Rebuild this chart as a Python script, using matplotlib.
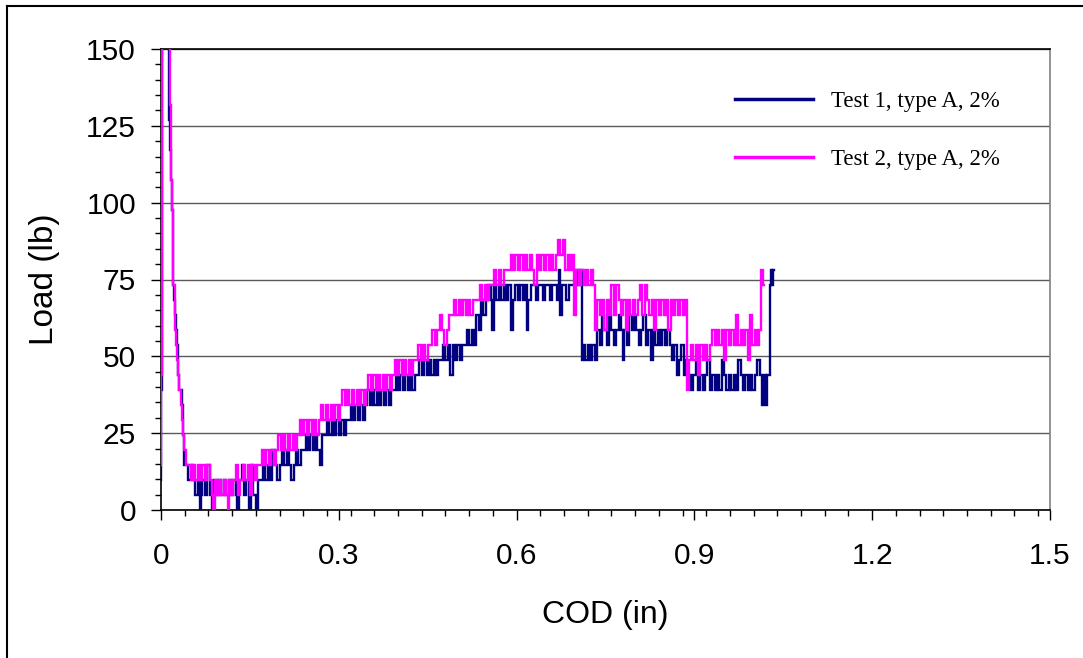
import numpy as np
import matplotlib
matplotlib.use("Agg")
import matplotlib.pyplot as plt
from matplotlib.ticker import MultipleLocator, FixedLocator, FixedFormatter
from matplotlib.lines import Line2D

# ---------------- data ----------------
# Load cell resolution: loads are recorded in steps of this many lb
LOAD_STEP = 4.88

SERIES_LABELS = ["Test 1, type A, 2%", "Test 2, type A, 2%"]
SERIES_COLORS = ["#000080", "#FF00FF"]

# COD in thousandths of an inch, load in load-cell steps
TEST1_COD_MILS = [
    0, 1, 2, 3, 8, 13, 15, 17, 18, 19, 20, 21, 22, 24, 26, 28, 30, 32, 34, 36, 38, 40, 42,
    44, 48, 52, 56, 60,
    64, 66, 68, 72, 76, 80, 84, 88, 92, 96, 100, 104, 108, 112, 116, 120, 124, 128, 130, 134,
    138, 142, 146, 150, 154, 158, 162, 166,
    170, 174, 178, 182, 186, 190, 194, 198,
    202, 206, 210, 214, 218, 222, 226, 230, 234, 238,
    242, 246, 250, 254, 258, 262, 266, 270, 274,
    278, 282, 286, 290, 294, 298, 302, 306, 310, 314,
    318, 322, 326, 330, 334, 338, 342,
    346, 350, 354, 358, 362, 366, 370, 374, 378, 382, 386, 390,
    394, 398, 402, 406, 410, 414, 418, 422, 426, 430,
    434, 438, 442, 446, 450, 454, 458, 462, 466, 470,
    474, 478, 482, 486, 490, 494, 498, 502, 506, 510,
    514, 518, 522, 526, 530,
    534, 538, 542, 546, 550,
    554, 558, 560, 564, 568, 572, 576, 580, 584, 588, 592, 596, 600, 604, 608, 612, 616, 618,
    622, 626, 630, 634, 638, 642, 646, 650, 654, 658, 662, 666, 670, 672, 675, 678, 682, 686,
    690, 694, 698,
    702, 706, 709, 711, 714, 718, 722, 726, 730, 734,
    738, 742, 746, 750, 754, 758, 762, 766, 770, 774, 778, 780, 784, 788, 792, 796, 800, 804,
    808, 812, 816, 820, 824, 828, 832, 836, 840, 844, 848, 852, 856, 860,
    864, 868, 872, 876, 880, 884, 888,
    892, 896, 900, 904, 908, 912, 916, 920, 924, 928, 932, 936, 940, 944, 948, 952, 956, 960,
    964, 968, 972, 976, 980, 984, 988, 992, 996, 1000, 1004, 1008, 1012,
    1016, 1019, 1021, 1024, 1026, 1028, 1030, 1032, 1034,
]
TEST1_LOAD_STEPS = [
    2, 8, 20, 31, 31, 31, 26, 24, 22, 20, 17, 15, 14, 13, 12, 11, 9, 8, 8, 7, 5, 3, 3,
    3, 2, 3, 2, 1,
    2, 0, 1, 2, 1, 3, 1, 0, 2, 1, 2, 1, 2, 1, 2, 1, 2, 1, 0, 2,
    3, 1, 2, 0, 3, 1, 0, 2,
    2, 3, 2, 3, 2, 4, 3, 2,
    3, 4, 3, 4, 3, 2, 3, 4, 3, 4,
    4, 5, 4, 5, 4, 5, 4, 3, 5,
    5, 6, 5, 6, 5, 6, 5, 6, 5, 6,
    6, 7, 6, 7, 6, 7, 6,
    7, 8, 7, 8, 7, 8, 7, 8, 7, 8, 7, 8,
    8, 9, 8, 9, 8, 9, 8, 9, 8, 9,
    9, 10, 9, 10, 9, 10, 9, 10, 9, 10,
    10, 11, 10, 11, 9, 11, 10, 11, 10, 11,
    11, 12, 11, 12, 11,
    13, 12, 14, 13, 14,
    15, 14, 12, 15, 14, 15, 14, 15, 14, 15, 12, 14, 15, 14, 15, 14, 15, 12,
    14, 15, 15, 14, 15, 15, 14, 15, 15, 14, 15, 15, 14, 16, 13, 15, 15, 14,
    15, 15, 15,
    16, 15, 16, 10, 11, 10, 11, 10, 11, 10,
    12, 11, 13, 12, 11, 13, 12, 11, 12, 13, 12, 10, 12, 11, 13, 12, 13, 12,
    11, 12, 13, 11, 12, 10, 12, 11, 12, 11, 12, 11, 12, 11,
    10, 11, 9, 10, 11, 9, 10,
    9, 8, 9, 10, 8, 9, 8, 9, 10, 8, 9, 8, 9, 8, 10, 9, 8, 9,
    8, 9, 8, 10, 9, 8, 9, 8, 9, 8, 9, 10, 9,
    7, 9, 7, 9, 9, 15, 16, 15, 16,
]

TEST2_COD_MILS = [
    0, 1, 2, 3, 8, 13, 15, 16, 17, 18, 19, 20, 22, 24, 26, 28, 30, 32, 34, 36, 38, 40, 42, 44,
    48, 52, 56, 60, 64, 68, 72, 76, 80, 84,
    87, 89, 92, 96, 100, 104, 108, 111, 114, 117,
    120, 124, 128, 132, 136, 140, 144, 148, 152, 156, 160, 164,
    168, 172, 176, 180, 184, 188, 192,
    196, 200, 204, 208, 212, 216, 220, 224, 228,
    232, 236, 240, 244, 248, 252, 256, 260, 264,
    268, 272, 276, 280, 284, 288, 292, 296, 300,
    304, 308, 312, 316, 320, 324, 328, 332, 336, 340, 344,
    348, 352, 356, 360, 364, 368, 372, 376, 380, 384, 388,
    392, 396, 400, 404, 408, 412, 416, 420, 424, 428,
    432, 436, 440, 444, 448, 452,
    456, 460, 464, 468, 472, 476, 480, 484, 488,
    492, 496, 500, 504, 508, 512, 516, 520, 524, 528, 532,
    536, 540, 544, 548, 552, 556,
    560, 564, 568, 572, 576, 580, 584,
    588, 592, 596, 600, 604, 608, 612, 616, 620, 624, 628, 632, 636, 640, 644, 648, 652, 656,
    660, 664, 668, 672, 676, 680, 684, 688, 692, 696, 699,
    703, 707, 711, 715, 719, 723, 727, 731,
    734, 738, 742, 746, 750, 754, 758, 762, 766, 770, 774, 778, 782, 786, 790, 794, 798, 802,
    806, 810, 814, 818, 822, 826, 830, 834, 838, 842, 846, 850, 854, 858, 862, 866, 870, 874,
    878, 882, 886,
    890, 893,
    896, 900, 904, 908, 912, 916, 920, 924, 928,
    932, 936, 940, 944, 948, 952, 956, 960, 964, 968, 972, 976, 980, 984, 988, 992, 996, 1000,
    1004, 1008, 1011,
    1013, 1015, 1017,
]
TEST2_LOAD_STEPS = [
    3, 9, 20, 31, 31, 31, 31, 27, 25, 22, 20, 18, 15, 12, 11, 10, 9, 8, 7, 6, 5, 4, 4, 3,
    3, 2, 3, 2, 3, 2, 3, 2, 3, 2,
    1, 0, 2, 1, 2, 1, 2, 1, 0, 2,
    1, 2, 3, 1, 2, 3, 2, 3, 1, 3, 2, 3,
    3, 4, 3, 4, 3, 4, 3,
    4, 5, 4, 5, 4, 5, 4, 5, 4,
    5, 6, 5, 6, 5, 6, 5, 6, 5,
    6, 7, 6, 7, 6, 7, 6, 7, 6,
    7, 8, 7, 8, 7, 8, 7, 8, 7, 8, 7,
    8, 9, 8, 9, 8, 9, 8, 9, 8, 9, 8,
    9, 10, 9, 10, 9, 10, 9, 10, 9, 10,
    10, 11, 10, 11, 10, 11,
    11, 12, 11, 12, 13, 12, 11, 12, 13,
    13, 14, 13, 14, 13, 14, 13, 14, 13, 14, 14,
    14, 15, 14, 15, 14, 15,
    15, 16, 15, 16, 15, 16, 16,
    16, 17, 16, 17, 16, 17, 16, 17, 16, 17, 16, 15, 17, 16, 17, 16, 17, 16,
    17, 16, 17, 18, 17, 18, 16, 17, 16, 17, 13,
    16, 15, 16, 15, 16, 15, 16, 15,
    12, 14, 13, 14, 12, 14, 13, 15, 13, 15, 14, 13, 14, 12, 14, 13, 14, 13,
    14, 15, 13, 15, 14, 13, 14, 12, 14, 13, 14, 13, 14, 12, 14, 13, 14, 13,
    14, 13, 14,
    8, 10,
    11, 10, 11, 9, 11, 10, 11, 10, 11,
    12, 11, 12, 11, 12, 10, 12, 11, 12, 11, 13, 11, 12, 11, 12, 10, 13, 11,
    12, 11, 12,
    16, 16, 15,
]

X_TICKS = [0.0, 0.3, 0.6, 0.9, 1.2, 1.5]
X_TICK_LABELS = ["0", "0.3", "0.6", "0.9", "1.2", "1.5"]
Y_TICKS = [0, 25, 50, 75, 100, 125, 150]
Y_TICK_LABELS = ["0", "25", "50", "75", "100", "125", "150"]
X_LABEL = "COD (in)"
Y_LABEL = "Load (lb)"

# ---------------- figure ----------------
plt.rcParams["font.family"] = ["Liberation Sans", "DejaVu Sans"]

W, H = 1083, 658
fig = plt.figure(figsize=(W / 100, H / 100), dpi=100)
ax = fig.add_axes([161 / W, (H - 510) / H, 889 / W, 461 / H])

series = [
    (TEST1_COD_MILS, TEST1_LOAD_STEPS),
    (TEST2_COD_MILS, TEST2_LOAD_STEPS),
]
for (cod_mils, steps), lab, col in zip(series, SERIES_LABELS, SERIES_COLORS):
    cod = np.asarray(cod_mils, dtype=float) / 1000.0
    load = np.asarray(steps, dtype=float) * LOAD_STEP
    ax.plot(cod, load, color=col, lw=1.7, label=lab, drawstyle="steps-mid",
            solid_joinstyle="miter", zorder=3)

ax.set_xlim(0, 1.5)
ax.set_ylim(0, 150)

ax.xaxis.set_major_locator(FixedLocator(X_TICKS))
ax.xaxis.set_major_formatter(FixedFormatter(X_TICK_LABELS))
ax.xaxis.set_minor_locator(MultipleLocator(0.04))
ax.yaxis.set_major_locator(FixedLocator(Y_TICKS))
ax.yaxis.set_major_formatter(FixedFormatter(Y_TICK_LABELS))
ax.yaxis.set_minor_locator(MultipleLocator(5))

ax.tick_params(which="major", direction="out", length=7, width=1.0,
               labelsize=21.5, color="black")
ax.tick_params(which="minor", direction="out", length=4.2, width=1.0, color="black")
ax.tick_params(axis="x", which="major", pad=16)
ax.tick_params(axis="y", which="major", pad=11)

ax.grid(axis="y", which="major", color="#5a5a5a", lw=1.0)
ax.set_axisbelow(True)

for side in ("left", "bottom", "top"):
    ax.spines[side].set_color("black")
    ax.spines[side].set_linewidth(1.2)
ax.spines["right"].set_color("#808080")
ax.spines["right"].set_linewidth(1.2)

ax.set_xlabel(X_LABEL, fontsize=23)
ax.set_ylabel(Y_LABEL, fontsize=24)
ax.xaxis.set_label_coords(0.5, (510 - 600) / 461)
ax.yaxis.set_label_coords((60 - 161) / 889, 0.5)

leg = ax.legend(loc="upper left", bbox_to_anchor=((735 - 161) / 889, (510 - 91) / 461),
                frameon=False, prop={"family": "Liberation Serif", "size": 16.5},
                handlelength=3.4, handletextpad=0.8, labelspacing=1.62,
                borderpad=0, borderaxespad=0)
for h in leg.get_lines():
    h.set_linewidth(2.5)

# outer frame lines of the original picture
fig.add_artist(Line2D([7 / W, 1.0], [1 - 6 / H, 1 - 6 / H], transform=fig.transFigure,
                      color="black", lw=1.5))
fig.add_artist(Line2D([7 / W, 7 / W], [0.0, 1 - 6 / H], transform=fig.transFigure,
                      color="black", lw=1.5))

fig.savefig("out.png", dpi=100)
